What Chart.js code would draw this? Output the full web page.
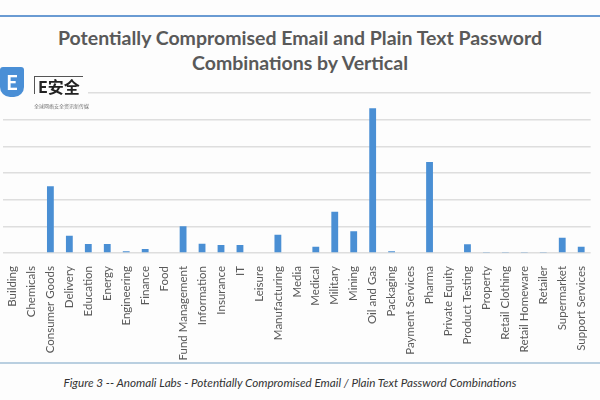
<!DOCTYPE html>
<html>
<head>
<meta charset="utf-8">
<script src="https://cdn.jsdelivr.net/npm/chart.js@4.4.1/dist/chart.umd.min.js"></script>
<style>
  html, body { margin:0; padding:0; background:#fff; }
  #wrap { position:relative; width:600px; height:400px; overflow:hidden; background:#fdfdfd; }
  .topline { position:absolute; left:0; top:15px; width:600px; height:2px; background:#6a9bd3; }
  .botline { position:absolute; left:0; top:362px; width:600px; height:2px; background:#b9cfe0; }
  .title { position:absolute; left:0; top:25px; width:600px; text-align:center;
           font:bold 19.5px Lato, "Open Sans", sans-serif; color:#595959; line-height:25px; }
  .caption { position:absolute; left:0; top:375px; width:580px; text-align:center; white-space:nowrap;
           font:italic 11.7px Lato, "Open Sans", sans-serif; color:#333; }
  #chartBox { position:absolute; left:0; top:60px; width:600px; height:302px; }
  .logo { position:absolute; left:0; top:67px; width:88px; height:42px; background:#fdfdfd; }
  .logo .bub { position:absolute; left:0; top:0; width:24px; height:30px; background:#4a8fd6;
               border-radius:3px 3px 10px 10px; color:#fff; font:bold 20px Lato, sans-serif;
               text-align:center; line-height:30px; }
  .logo .name { position:absolute; left:34px; top:9px; font:bold 16px "Noto Sans CJK SC", sans-serif; white-space:nowrap;
                color:#222; line-height:16px; border-left:1px solid #555; border-top:1px solid #555; padding:1px 3px 0 3px; }
  .logo .sub { position:absolute; left:34px; top:35px; font:5px "Noto Sans CJK SC", sans-serif; color:#777; white-space:nowrap; }
</style>
</head>
<body>
<div id="wrap">
  <div class="topline"></div>
  <div class="title">Potentially Compromised Email and Plain Text Password<br>Combinations by Vertical</div>
  <div id="chartBox"><canvas id="c"></canvas></div>
  <div class="logo">
    <div class="bub">E</div>
    <div class="name">E安全</div>
    <div class="sub">全球网络安全资讯新传媒</div>
  </div>
  <div class="botline"></div>
  <div class="caption">Figure 3 -- Anomali Labs - Potentially Compromised Email / Plain Text Password Combinations</div>
</div>
<script>
// Data (values in gridline units)
const verticals = [
  "Building", "Chemicals", "Consumer Goods", "Delivery", "Education", "Energy",
  "Engineering", "Finance", "Food", "Fund Management", "Information", "Insurance",
  "IT", "Leisure", "Manufacturing", "Media", "Medical", "Military", "Mining",
  "Oil and Gas", "Packaging", "Payment Services", "Pharma", "Private Equity",
  "Product Testing", "Property", "Retail Clothing", "Retail Homeware", "Retailer",
  "Supermarket", "Support Services"
];
const combos = [
  0.03, 0.03, 2.5, 0.65, 0.34, 0.34,
  0.07, 0.15, 0.03, 1.0, 0.35, 0.3,
  0.3, 0.03, 0.68, 0.03, 0.23, 1.55, 0.82,
  5.43, 0.07, 0.03, 3.41, 0.03,
  0.33, 0.02, 0.02, 0.02, 0.02,
  0.57, 0.23
];
const yMax = 6;

new Chart(document.getElementById("c"), {
  type: "bar",
  data: {
    labels: verticals,
    datasets: [{ data: combos, backgroundColor: "#4a8fd4", barPercentage: 0.36, categoryPercentage: 1 }]
  },
  options: {
    responsive: true, maintainAspectRatio: false, animation: false,
    layout: { padding: { top: 33, left: 3, right: 0, bottom: 0 } },
    plugins: { legend: { display: false }, tooltip: { enabled: false } },
    scales: {
      x: {
        grid: { display: false },
        border: { display: false },
        ticks: { color: "#595959", font: { family: "Lato", size: 11.5 }, minRotation: 90, maxRotation: 90, autoSkip: false, padding: 5 },
        afterFit: s => { s.height = 109; }
      },
      y: {
        min: 0, max: yMax,
        ticks: { display: false, stepSize: 1 },
        border: { display: false },
        grid: { color: "#dedede", lineWidth: 1.5, drawTicks: false },
        afterFit: s => { s.width = 0; }
      }
    }
  }
});
</script>
</body>
</html>
